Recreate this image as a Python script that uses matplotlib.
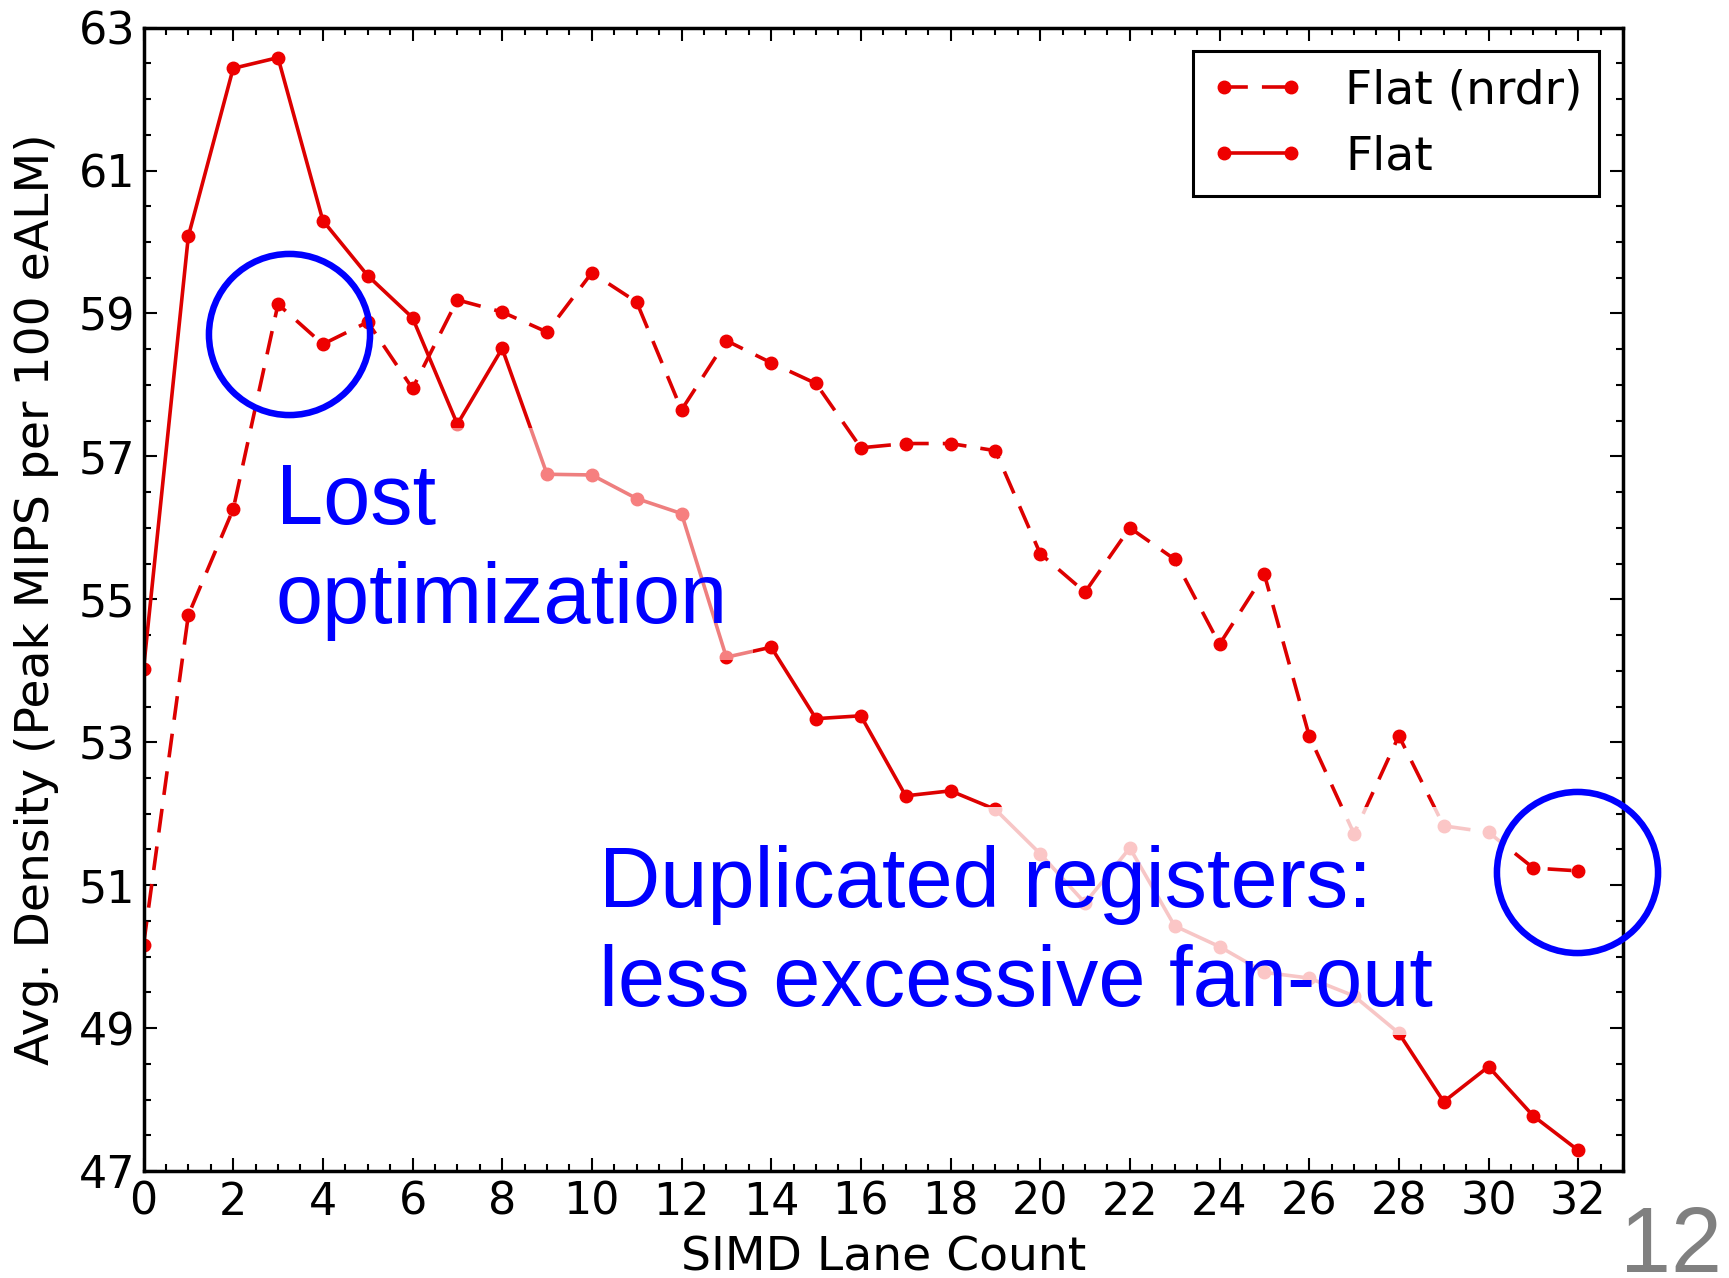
import numpy as np
import matplotlib
matplotlib.use('Agg')
import matplotlib.pyplot as plt
from matplotlib.patches import Rectangle

lanes = list(range(33))
flatNrdr = [50.16, 54.78, 56.26, 59.13, 58.57, 58.88, 57.95, 59.19, 59.02, 58.74,
            59.57, 59.16, 57.65, 58.62, 58.31, 58.02, 57.12, 57.18, 57.18, 57.08,
            55.64, 55.10, 56.00, 55.56, 54.37, 55.35, 53.09, 51.72, 53.09, 51.83,
            51.74, 51.24, 51.20]
flat = [54.02, 60.08, 62.43, 62.58, 60.30, 59.53, 58.94, 57.45, 58.51, 56.75,
        56.74, 56.41, 56.20, 54.19, 54.33, 53.33, 53.37, 52.25, 52.32, 52.06,
        51.44, 50.75, 51.52, 50.43, 50.14, 49.78, 49.70, 49.45, 48.93, 47.97,
        48.46, 47.77, 47.29]
seriesNames = ['Flat (nrdr)', 'Flat']
xTicks = list(range(0, 33, 2))
yTicks = list(range(47, 64, 2))

# callouts drawn on the slide
noteLost = 'Lost\noptimization'
noteDup = 'Duplicated registers:\nless excessive fan-out'
circleAt = [(3.24, 58.71), (31.97, 51.18)]

red = '#dd0000'
mred = '#ee0000'

fig = plt.figure(figsize=(17.29, 12.78), dpi=100)
ax = fig.add_axes([0.083, 0.0837, 0.8557, 0.8947])

ax.plot(lanes, flatNrdr, '--', color=red, lw=2.6, dashes=(6.6, 3.9),
        marker='o', ms=9, mfc=mred, mec=mred, label=seriesNames[0], zorder=2)
ax.plot(lanes, flat, '-', color=red, lw=2.6,
        marker='o', ms=9, mfc=mred, mec=mred, label=seriesNames[1], zorder=2)

# half transparent white text boxes fade the lines beneath them
ax.add_patch(Rectangle((2.9, 54.15), 10.7, 3.25, facecolor='white', alpha=0.5,
                       edgecolor='none', zorder=3))
ax.add_patch(Rectangle((10.1, 48.9), 20.45, 3.2, facecolor='white', alpha=0.78,
                       edgecolor='none', zorder=3))

ax.set_xlim(0, 33)
ax.set_ylim(47, 63)
ax.set_xticks(xTicks)
ax.set_yticks(yTicks)
ax.set_xticks(np.arange(0, 33.01, 0.5), minor=True)
ax.set_yticks(np.arange(47, 63.01, 0.5), minor=True)
ax.tick_params(which='both', direction='in', top=True, right=True, width=1.5)
ax.tick_params(which='major', length=9.5, labelsize=32, pad=7)
ax.tick_params(axis='y', which='major', pad=6)
ax.tick_params(which='minor', length=5)
for s in ax.spines.values():
    s.set_linewidth(2.5)

ax.set_xlabel('SIMD Lane Count', fontsize=34)
ax.set_ylabel('Avg. Density (Peak MIPS per 100 eALM)', fontsize=34)
ax.xaxis.set_label_coords(0.5, -0.056)
ax.yaxis.set_label_coords(-0.057, 0.5)

leg = ax.legend(loc='upper right', fontsize=34, numpoints=2, fancybox=False,
                framealpha=1, edgecolor='black', borderaxespad=0.5,
                handlelength=2.0, handletextpad=0.85, borderpad=0.36,
                labelspacing=0.45)
leg.get_frame().set_linewidth(2.2)

ax.text(2.95, 54.67, noteLost, fontsize=61, color='#0000ff', family='Liberation Sans',
        ha='left', va='baseline', linespacing=1.3, zorder=4)
ax.text(10.15, 49.31, noteDup, fontsize=61, color='#0000ff', family='Liberation Sans',
        ha='left', va='baseline', linespacing=1.3, zorder=4)
for cx, cy in circleAt:
    ax.plot(cx, cy, 'o', ms=116, mfc='none', mec='#0000ff', mew=4.7,
            clip_on=False, zorder=5)

fig.text(0.996, 0.005, '12', fontsize=66, color='#808080', family='Liberation Sans',
         ha='right', va='baseline')

fig.savefig('out.png', dpi=100)
